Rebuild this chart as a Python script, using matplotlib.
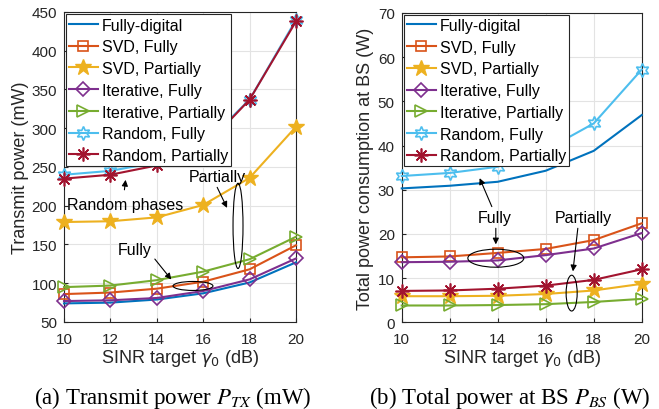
import matplotlib
matplotlib.use("Agg")
import matplotlib.pyplot as plt
from matplotlib.patches import Ellipse

plt.rcParams['font.family'] = ['Liberation Sans', 'DejaVu Sans']
plt.rcParams['mathtext.fontset'] = 'stix'

# ---- data ----
sinr = [10, 12, 14, 16, 18, 20]

# (a) transmit power (mW)
ptx_fd = [74, 75, 79, 87, 101, 127]
ptx_svd_f = [86, 88, 93, 102, 118, 149]
ptx_svd_p = [179, 180, 185, 201, 236, 302]
ptx_it_f = [77, 78, 81, 90, 105, 132]
ptx_it_p = [95, 97, 104, 115, 131, 160]
ptx_rnd_f = [240, 245, 256, 278, 337, 440]
ptx_rnd_p = [235, 240, 252, 274, 337, 438]

# (b) total power at BS (W)
pbs_fd = [30.3, 30.9, 31.8, 34.3, 38.8, 46.9]
pbs_svd_f = [14.7, 14.9, 15.7, 16.6, 18.6, 22.4]
pbs_svd_p = [5.9, 5.9, 6.0, 6.4, 7.2, 8.7]
pbs_it_f = [13.6, 13.7, 14.0, 15.2, 16.7, 20.2]
pbs_it_p = [3.8, 3.8, 3.9, 4.1, 4.6, 5.3]
pbs_rnd_f = [33.1, 33.8, 35.2, 39.0, 45.0, 57.2]
pbs_rnd_p = [7.1, 7.2, 7.6, 8.3, 9.6, 12.0]

labels = ['Fully-digital', 'SVD, Fully', 'SVD, Partially', 'Iterative, Fully',
          'Iterative, Partially', 'Random, Fully', 'Random, Partially']

colors = ['#0072BD', '#D95319', '#EDB120', '#7E2F8E', '#77AC30', '#4DBEEE', '#A2142F']
styles = [
    dict(marker=None),
    dict(marker='s', mfc='none', ms=7, mew=1.2),
    dict(marker='*', ms=12, mew=1.0),
    dict(marker='D', mfc='none', ms=7, mew=1.2),
    dict(marker='>', mfc='none', ms=9, mew=1.2),
    dict(marker=(6, 1, 0), mfc='none', ms=10, mew=1.2),
    dict(marker=(8, 2, 0), ms=10, mew=1.2),
]

fig = plt.figure(figsize=(6.59, 4.10), dpi=100)
ax1 = fig.add_axes([0.0971, 0.2122, 0.3521, 0.7561])
ax2 = fig.add_axes([0.6096, 0.2115, 0.3642, 0.7544])

series_a = [ptx_fd, ptx_svd_f, ptx_svd_p, ptx_it_f, ptx_it_p, ptx_rnd_f, ptx_rnd_p]
series_b = [pbs_fd, pbs_svd_f, pbs_svd_p, pbs_it_f, pbs_it_p, pbs_rnd_f, pbs_rnd_p]

for ax, series in ((ax1, series_a), (ax2, series_b)):
    for y, lab, c, st in zip(series, labels, colors, styles):
        ax.plot(sinr, y, color=c, lw=1.5, label=lab, clip_on=False, zorder=3, **st)
    ax.set_xlim(10, 20)
    ax.set_xticks(sinr)
    ax.grid(True, color='#e3e3e3', lw=0.8)
    ax.set_axisbelow(True)
    ax.tick_params(labelsize=11, colors='#262626', direction='in', length=3)
    ax.tick_params(axis='x', pad=7)
    ax.tick_params(axis='y', pad=5)
    for sp in ax.spines.values():
        sp.set_color('#262626')
        sp.set_linewidth(0.8)
    ax.set_xlabel(r'SINR target $\gamma_0$ (dB)', fontsize=13, color='#262626',
                  labelpad=1, math_fontfamily='dejavusans')

ax1.set_ylim(50, 450)
ax1.set_yticks(range(50, 451, 50))
ax1.set_ylabel('Transmit power (mW)', fontsize=13, color='#262626', labelpad=2)
ax2.set_ylim(0, 70)
ax2.set_yticks(range(0, 71, 10))
ax2.set_ylabel('Total power consumption at BS (W)', fontsize=13, color='#262626', labelpad=3)

for ax, anc in ((ax1, (0.008, 0.992)), (ax2, (0.009, 0.994))):
    leg = ax.legend(loc='upper left', bbox_to_anchor=anc, fontsize=11.5, frameon=True,
                    fancybox=False, edgecolor='#262626', framealpha=1,
                    handlelength=1.8, handletextpad=0.25, labelspacing=0.42,
                    borderpad=0.2, borderaxespad=0.0)
    leg.get_frame().set_linewidth(0.8)
    leg.set_zorder(5)

arrow = dict(arrowstyle='-|>', color='black', lw=0.8, mutation_scale=9)
tk = dict(fontsize=11.5, color='black', ha='center', va='center', zorder=6)

# annotations (a)
ax1.text(12.63, 201, 'Random phases', **tk)
ax1.annotate('', xy=(12.67, 237), xytext=(12.59, 217), arrowprops=arrow, zorder=6)
ax1.text(16.62, 238, 'Partially', **tk)
ax1.annotate('', xy=(17.08, 194), xytext=(16.55, 227), arrowprops=arrow, zorder=6)
ax1.add_patch(Ellipse((17.5, 174), 0.43, 110, fill=False, ec='black', lw=0.8, zorder=6))
ax1.text(13.05, 144, 'Fully', **tk)
ax1.annotate('', xy=(14.7, 102), xytext=(13.84, 134), arrowprops=arrow, zorder=6)
ax1.add_patch(Ellipse((15.56, 96.5), 1.72, 11.6, fill=False, ec='black', lw=0.8, zorder=6))

# annotations (b)
ax2.text(13.89, 23.8, 'Fully', **tk)
ax2.annotate('', xy=(13.2, 33.2), xytext=(13.8, 25.6), arrowprops=arrow, zorder=6)
ax2.annotate('', xy=(13.92, 17.0), xytext=(13.92, 21.9), arrowprops=arrow, zorder=6)
ax2.add_patch(Ellipse((13.92, 14.5), 2.33, 4.07, fill=False, ec='black', lw=0.8, zorder=6))
ax2.text(17.57, 23.8, 'Partially', **tk)
ax2.annotate('', xy=(17.12, 10.9), xytext=(17.35, 21.9), arrowprops=arrow, zorder=6)
ax2.add_patch(Ellipse((17.08, 6.6), 0.46, 8.1, fill=False, ec='black', lw=0.8, zorder=6))

# captions
cap = dict(fontsize=16.5, family=['Liberation Serif', 'DejaVu Serif'], ha='center', va='center',
           math_fontfamily='stix')
fig.text(173 / 659, 1 - 398 / 410, r'(a) Transmit power $P_{TX}$ (mW)', **cap)
fig.text(510 / 659, 1 - 398 / 410, r'(b) Total power at BS $P_{BS}$ (W)', **cap)

fig.savefig('out.png', dpi=100)
